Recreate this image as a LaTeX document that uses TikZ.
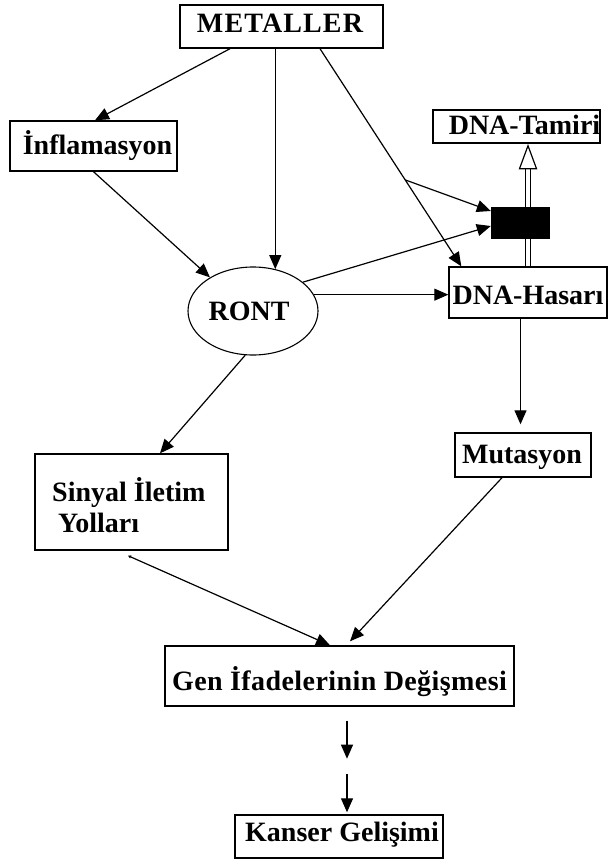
\documentclass[tikz,border=0pt]{standalone}
\usepackage{fontspec}
\setmainfont{Liberation Serif}
\usetikzlibrary{arrows.meta,calc,shapes.geometric}
\begin{document}
\begin{tikzpicture}[x=1pt,y=-1pt,
  box/.style={draw, line width=1.4pt, rectangle, inner sep=0pt},
  lbl/.style={font=\bfseries\fontsize{28}{31}\selectfont, inner sep=0pt, anchor=base},
  arr/.style={line width=1.2pt, -{Triangle[length=14pt,width=12pt]}},
]
\useasboundingbox (0,0) rectangle (608,861);

% boxes
\node[box, minimum width=203pt, minimum height=43pt] (met) at (281.5,26.5) {};
\node[lbl] (tmet) at (280,33) {\addfontfeature{LetterSpace=4}METALLER};
\node[box, minimum width=167pt, minimum height=50pt] (inf) at (93.5,146) {};
\node[lbl] (tinf) at (97.5,155) {İnflamasyon};
\node[box, minimum width=167pt, minimum height=33pt] (tam) at (516.5,126.5) {};
\node[lbl] (ttam) at (524.5,135) {DNA-Tamiri};
\node[box, minimum width=158pt, minimum height=51pt] (has) at (528,292.5) {};
\node[lbl] (thas) at (528,304) {DNA-Hasarı};
\node[draw, line width=1.1pt, ellipse, minimum width=130pt, minimum height=88pt, inner sep=0pt] (ront) at (253,311) {};
\node[lbl] (tront) at (249,320.5) {RONT};
\node[box, minimum width=193pt, minimum height=96pt] (sin) at (131.5,502) {};
\node[lbl, anchor=base west] (tsin1) at (52,501) {Sinyal İletim};
\node[lbl, anchor=base west] (tsin2) at (58,532) {Yolları};
\node[box, minimum width=136pt, minimum height=44pt] (mut) at (523,455) {};
\node[lbl] (tmut) at (522,463) {Mutasyon};
\node[box, minimum width=349pt, minimum height=60pt] (gen) at (339.5,676) {};
\node[lbl] (tgen) at (339.5,690) {\addfontfeature{LetterSpace=1.5}Gen İfadelerinin Değişmesi};
\node[box, minimum width=208pt, minimum height=43pt] (kan) at (339,836.5) {};
\node[lbl] (tkan) at (342,841.5) {Kanser Gelişimi};

% double (repair) arrow behind the black box
\coordinate (dtop) at (has.north |- tam.south);
\draw[line width=1.2pt, double, double distance=4.5pt] (has.north) -- ($(dtop)+(0,22)$);
\draw[line width=1.2pt, fill=white, line join=miter] ($(dtop)+(0,2)$) -- ($(dtop)+(-8.5,25)$) -- ($(dtop)+(8.5,25)$) -- cycle;
\node[fill=black, inner sep=0pt, minimum width=59pt, minimum height=32pt] (blk) at (520.5,223) {};

% connectors
\draw[arr] ([xshift=-51.5pt]met.south) -- ([xshift=1.5pt]inf.north);
\draw[arr] (met.south -| ront.62) -- (ront.62);
\coordinate (ms) at ([xshift=38.5pt]met.south);
\coordinate (he) at ([xshift=13pt]has.north west);
\draw[arr] (ms) -- (he);
\coordinate (br) at ($(ms)!0.603!(he)$);
\draw[arr] (br) -- ([yshift=12pt]blk.west);
\draw[arr] (inf.south) -- (ront.142);
\draw[arr] (ront.30) -- ([yshift=-3pt]blk.west);
\draw[arr] (ront.15) -- (ront.15 -| has.west);
\coordinate (hs) at ([xshift=-7.5pt]has.south);
\draw[arr, shorten >=8pt] (hs) -- (hs |- mut.north);
\draw[arr] (ront.-100) -- ([xshift=28.5pt]sin.north);
\draw[line width=1.2pt, {Triangle[length=3pt,width=3pt]}-{Triangle[length=14pt,width=12pt]}] ($(sin.south)+(-3.5,5)$) -- ([xshift=-9.5pt]gen.north);
\draw[arr] ([xshift=-21pt]mut.south) -- ($(gen.north)+(10.5,-4)$);
\coordinate (a1) at ($(gen.south)+(7.5,14)$);
\coordinate (a2) at ($(gen.south)+(7.5,52)$);
\coordinate (a3) at ($(kan.north)+(8,-40)$);
\draw[arr] (a1) -- (a2);
\draw[arr] (a3) -- ($(kan.north)+(8,-2)$);
\end{tikzpicture}
\end{document}
